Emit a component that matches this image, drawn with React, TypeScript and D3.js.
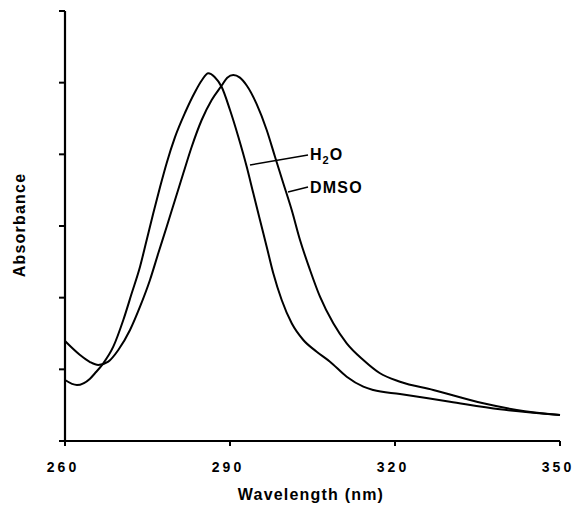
import React from "react";
import * as d3 from "d3";

const xTicks = [260, 290, 320, 350];
const yTicks = [0, 1, 2, 3, 4, 5, 6];

const h2oWl = [260, 262.18, 264.55, 265.45, 266.96, 268.78, 270.6, 272.13, 273.64, 274.85, 276.05, 277.27, 278.49, 280.0, 281.82, 283.64, 284.85, 286.05, 287.2, 288.49, 290.0, 291.51, 293.04, 294.24, 295.45, 296.67, 297.87, 299.4, 301.22, 303.33, 305.76, 308.18, 311.22, 314.24, 316.05, 320.91, 330.0, 339.09, 350];
const h2oAbs = [0.851, 0.781, 0.87, 0.945, 1.084, 1.316, 1.688, 2.061, 2.432, 2.805, 3.177, 3.54, 3.88, 4.24, 4.58, 4.87, 5.03, 5.131, 5.08, 4.94, 4.619, 4.246, 3.827, 3.456, 3.084, 2.711, 2.34, 1.967, 1.642, 1.409, 1.246, 1.107, 0.897, 0.758, 0.712, 0.656, 0.548, 0.442, 0.363];

const dmsoWl = [260, 262.73, 264.55, 266.05, 267.87, 269.69, 271.82, 273.64, 275.45, 276.96, 278.49, 280.0, 281.51, 283.04, 284.85, 286.67, 288.49, 289.5, 290.6, 291.8, 293.04, 294.85, 296.67, 298.18, 299.69, 301.22, 302.73, 304.55, 306.36, 308.78, 311.22, 314.24, 317.27, 320.91, 326.96, 336.05, 342.13, 350];
const dmsoAbs = [1.395, 1.2, 1.102, 1.06, 1.107, 1.27, 1.549, 1.874, 2.247, 2.619, 2.99, 3.363, 3.735, 4.106, 4.479, 4.758, 4.96, 5.07, 5.107, 5.07, 4.96, 4.7, 4.34, 3.967, 3.596, 3.223, 2.805, 2.386, 2.013, 1.642, 1.363, 1.13, 0.945, 0.827, 0.712, 0.526, 0.433, 0.363];

const xTitle = "Wavelength (nm)";
const yTitle = "Absorbance";

export default function App() {
  const W = 577, H = 505;
  const x = d3.scaleLinear().domain([260, 350]).range([65, 560]);
  const y = d3.scaleLinear().domain([0, 6]).range([441, 11]);
  const line = d3
    .line<[number, number]>()
    .x((d) => x(d[0]))
    .y((d) => y(d[1]))
    .curve(d3.curveMonotoneX);
  const h2o = line(h2oWl.map((w, i) => [w, h2oAbs[i]] as [number, number])) || "";
  const dmso = line(dmsoWl.map((w, i) => [w, dmsoAbs[i]] as [number, number])) || "";
  const font = "'Liberation Sans', Arial, Helvetica, sans-serif";

  return (
    <svg width={W} height={H} style={{ position: "absolute", left: 0, top: 0, background: "#fff" }}>
      <rect width={W} height={H} fill="#fff" />
      <path d={h2o} fill="none" stroke="#000" strokeWidth={2} strokeLinejoin="round" />
      <path d={dmso} fill="none" stroke="#000" strokeWidth={2} strokeLinejoin="round" />
      <line x1={x(260)} x2={x(260)} y1={y(6)} y2={y(0)} stroke="#000" strokeWidth={2.2} />
      <line x1={x(260)} x2={x(350)} y1={y(0)} y2={y(0)} stroke="#000" strokeWidth={2.2} />
      {yTicks.map((t) => (
        <line key={"yt" + t} x1={x(260) - 6} x2={x(260)} y1={y(t)} y2={y(t)} stroke="#000" strokeWidth={2} />
      ))}
      {xTicks.map((t) => (
        <g key={"xt" + t}>
          <line x1={x(t)} x2={x(t)} y1={y(0)} y2={y(0) + 5} stroke="#000" strokeWidth={2} />
          <text
            x={x(t) - 2}
            y={472}
            textAnchor="middle"
            fontFamily={font}
            fontWeight="bold"
            fontSize={14}
            letterSpacing={3}
            fill="#000"
          >
            {t}
          </text>
        </g>
      ))}
      <text x={311} y={500} textAnchor="middle" fontFamily={font} fontWeight="bold" fontSize={16} letterSpacing={1.2} fill="#000">
        {xTitle}
      </text>
      <text
        transform="translate(25,225) rotate(-90)"
        textAnchor="middle"
        fontFamily={font}
        fontWeight="bold"
        fontSize={16}
        letterSpacing={1.2}
        fill="#000"
      >
        {yTitle}
      </text>
      <line x1={250} y1={165} x2={308} y2={155} stroke="#000" strokeWidth={1.5} />
      <text x={310} y={160} fontFamily={font} fontWeight="bold" fontSize={16} letterSpacing={1} fill="#000">
        H<tspan fontSize={11} dy={4}>2</tspan>
        <tspan dy={-4}>O</tspan>
      </text>
      <line x1={288} y1={192} x2={308} y2={187} stroke="#000" strokeWidth={1.5} />
      <text x={310} y={193} fontFamily={font} fontWeight="bold" fontSize={16} letterSpacing={1.2} fill="#000">
        DMSO
      </text>
    </svg>
  );
}
